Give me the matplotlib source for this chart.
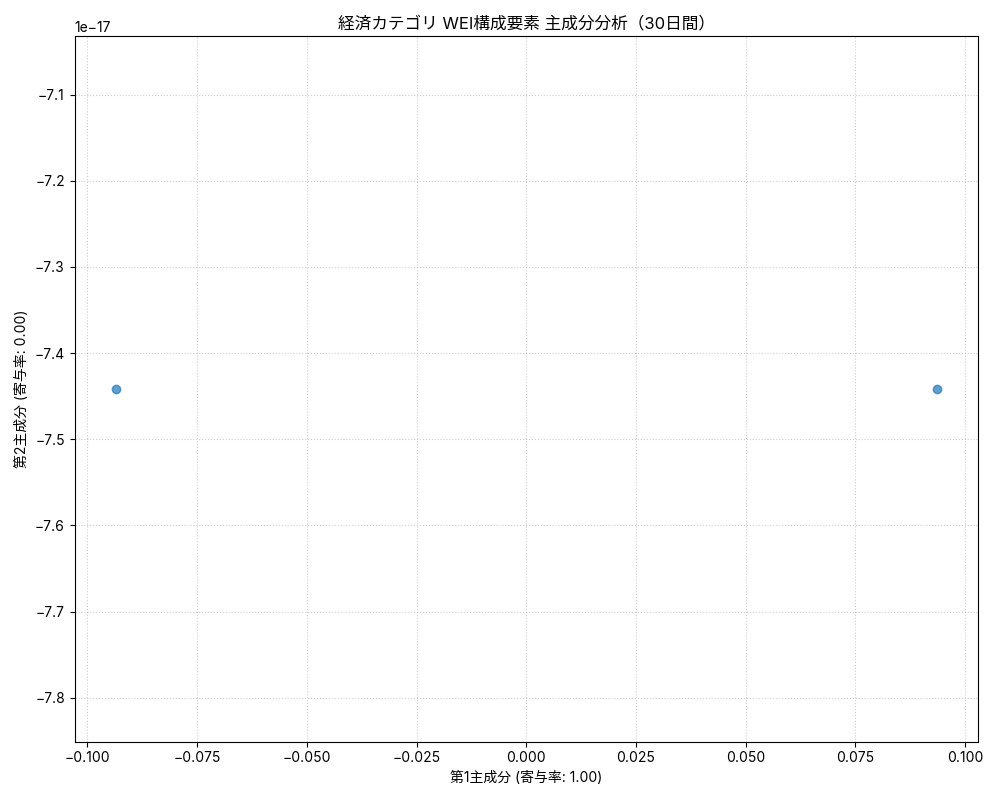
import matplotlib
matplotlib.use("Agg")
import matplotlib.pyplot as plt

plt.rcParams['font.family'] = ['Inter', 'Noto Sans CJK JP', 'DejaVu Sans']
plt.rcParams['axes.unicode_minus'] = True

pc1 = [-0.0936, 0.0936]
pc2 = [-7.4416e-17, -7.4416e-17]

title = "経済カテゴリ WEI構成要素 主成分分析（30日間）"
xlabel = "第1主成分 (寄与率: 1.00)"
ylabel = "第2主成分 (寄与率: 0.00)"

fig, ax = plt.subplots(figsize=(10, 8), dpi=100)
ax.scatter(pc1, pc2, alpha=0.7, color='#1f77b4')
ax.set_title(title)
ax.set_xlabel(xlabel)
ax.set_ylabel(ylabel)
ax.grid(True, linestyle=':', alpha=0.6)
fig.tight_layout()
fig.savefig("out.png", dpi=100)
